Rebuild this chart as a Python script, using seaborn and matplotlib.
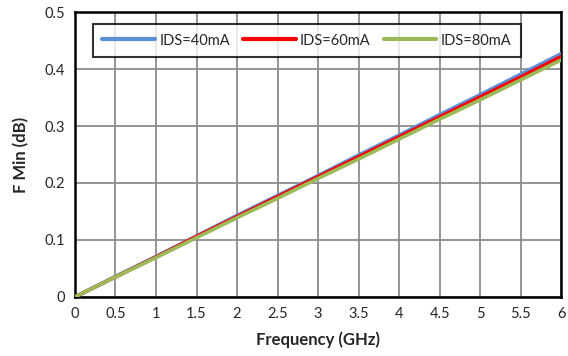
import numpy as np
import pandas as pd
import matplotlib
matplotlib.use("Agg")
import matplotlib.pyplot as plt
import seaborn as sns

# Minimum noise figure vs. frequency for three drain currents
freq_ghz = [0, 0.5, 1, 1.5, 2, 2.5, 3, 3.5, 4, 4.5, 5, 5.5, 6]
fmin_40ma = [0, 0.036, 0.071, 0.107, 0.143, 0.178, 0.213, 0.249, 0.284, 0.320, 0.355, 0.391, 0.427]
fmin_60ma = [0, 0.035, 0.070, 0.106, 0.141, 0.176, 0.211, 0.246, 0.281, 0.316, 0.351, 0.386, 0.422]
fmin_80ma = [0, 0.035, 0.069, 0.104, 0.139, 0.173, 0.208, 0.242, 0.277, 0.312, 0.346, 0.381, 0.416]
series_names = ["IDS=40mA", "IDS=60mA", "IDS=80mA"]
x_ticks = [0, 0.5, 1, 1.5, 2, 2.5, 3, 3.5, 4, 4.5, 5, 5.5, 6]
x_tick_labels = ["0", "0.5", "1", "1.5", "2", "2.5", "3", "3.5", "4", "4.5", "5", "5.5", "6"]
y_ticks = [0, 0.1, 0.2, 0.3, 0.4, 0.5]
y_tick_labels = ["0", "0.1", "0.2", "0.3", "0.4", "0.5"]

df = pd.concat([
    pd.DataFrame({"freq": freq_ghz, "fmin": vals, "bias": name})
    for name, vals in zip(series_names, [fmin_40ma, fmin_60ma, fmin_80ma])
])

sns.set_style("white")
plt.rcParams["font.family"] = ["Lato", "DejaVu Sans"]

palette = {"IDS=40mA": "#5B8FD9", "IDS=60mA": "#FF0000", "IDS=80mA": "#9BBB59"}

fig = plt.figure(figsize=(5.68, 3.56), dpi=100)
ax = fig.add_axes([0.132, 0.166, 0.856, 0.800])

sns.lineplot(data=df, x="freq", y="fmin", hue="bias", palette=palette,
             hue_order=series_names, linewidth=2.6, ax=ax, legend=True,
             zorder=3)

ax.set_xlim(0, 6)
ax.set_ylim(0, 0.5)
ax.set_xticks(x_ticks)
ax.set_xticklabels(x_tick_labels)
ax.set_yticks(y_ticks)
ax.set_yticklabels(y_tick_labels)
ax.grid(True, color="#8c8c8c", linewidth=1.3)
ax.set_axisbelow(True)

for side in ["left", "bottom", "right", "top"]:
    ax.spines[side].set_visible(True)
    ax.spines[side].set_color("black")
    ax.spines[side].set_linewidth(1.8)

ax.tick_params(axis="both", which="major", direction="out", length=5,
               width=1.5, color="black", labelsize=10.5, pad=2)

ax.set_xlabel("Frequency (GHz)", fontsize=12, fontweight="bold", labelpad=8)
ax.set_ylabel("F Min (dB)", fontsize=12, fontweight="bold", labelpad=11)

handles, labels = ax.get_legend_handles_labels()
leg = ax.legend(handles, labels, ncol=3, loc="upper left",
                bbox_to_anchor=(0.037, 0.958), frameon=True, fancybox=False,
                edgecolor="black", fontsize=10.5, handlelength=3.6,
                columnspacing=0.9, handletextpad=0.3, borderpad=0.65,
                borderaxespad=0)
leg.get_frame().set_linewidth(1.5)
for line in leg.get_lines():
    line.set_linewidth(3)

fig.savefig("out.png", dpi=100)
